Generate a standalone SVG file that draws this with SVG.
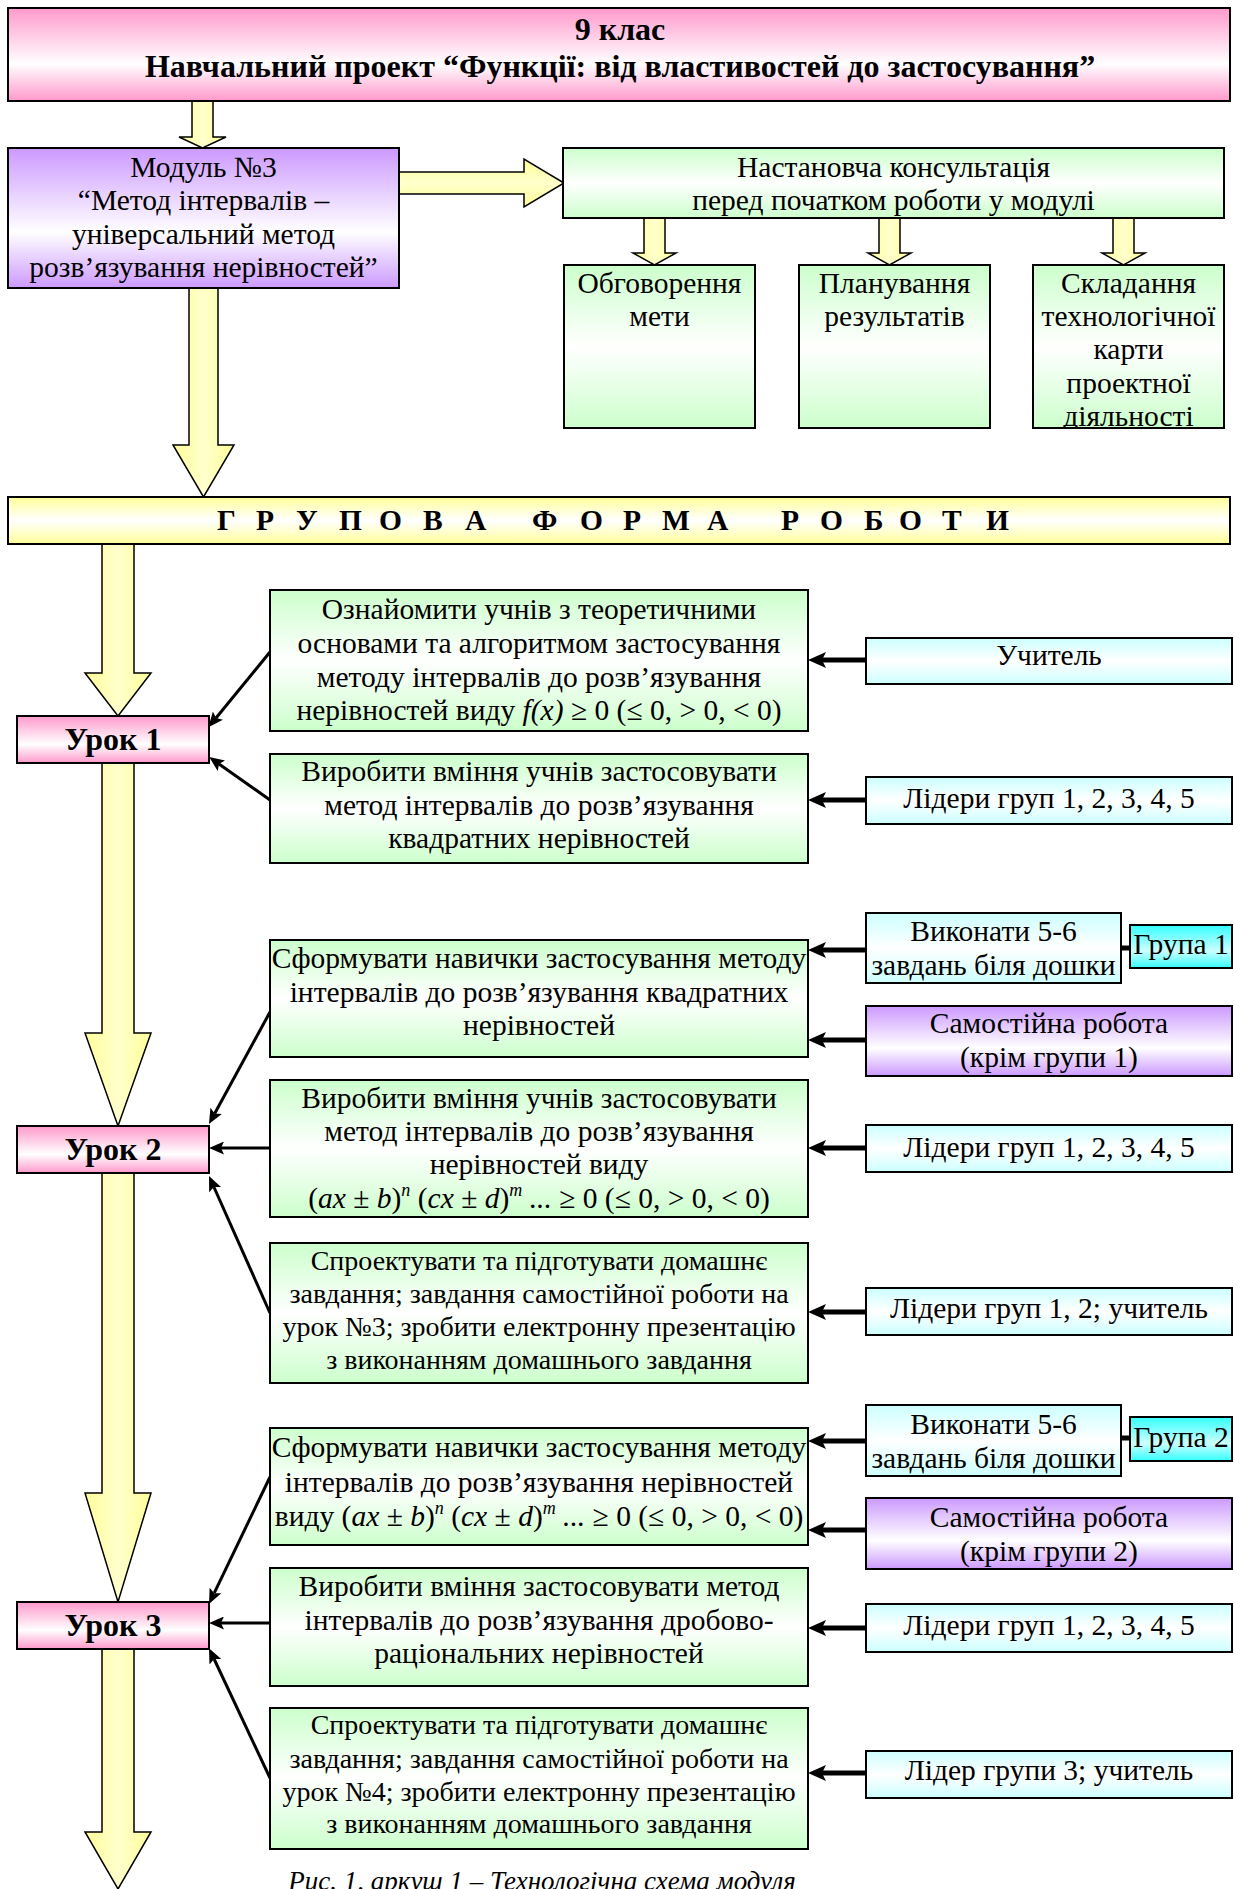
<svg xmlns="http://www.w3.org/2000/svg" width="1234" height="1889" viewBox="0 0 1234 1889">
<style>
.t{font-family:"Liberation Serif","Times New Roman",serif;font-size:29.5px;text-anchor:middle;fill:#000}
.s{font-size:28px}
.b{font-weight:bold}
.h{font-size:32px}
.i{font-style:italic}
.sup{font-style:italic;font-size:18px}
.cap{font-size:27px}
.box{stroke:#000;stroke-width:2}
.pink{fill:url(#gPink)}
.purple{fill:url(#gPurple)}
.green{fill:url(#gGreen)}
.cyan{fill:url(#gCyan)}
.cyan2{fill:url(#gCyan2)}
.yel{fill:url(#gYel)}
.ba{fill:url(#gArrV);stroke:#000;stroke-width:1.5}
.bah{fill:url(#gArrH);stroke:#000;stroke-width:1.5}
.thin{stroke:#000;stroke-width:3;fill:none;marker-end:url(#ah)}
.thick{stroke:#000;stroke-width:5;fill:none;marker-end:url(#ahT)}
</style>
<defs>
<linearGradient id="gPink" x1="0" y1="0" x2="0" y2="1"><stop offset="0" stop-color="#ff99cc"/><stop offset="0.6" stop-color="#ffffff"/><stop offset="1" stop-color="#ff99cc"/></linearGradient>
<linearGradient id="gPurple" x1="0" y1="0" x2="0" y2="1"><stop offset="0" stop-color="#cc99ff"/><stop offset="0.6" stop-color="#ffffff"/><stop offset="1" stop-color="#cc99ff"/></linearGradient>
<linearGradient id="gGreen" x1="0" y1="0" x2="0" y2="1"><stop offset="0" stop-color="#ccffcc"/><stop offset="0.5" stop-color="#ffffff"/><stop offset="1" stop-color="#ccffcc"/></linearGradient>
<linearGradient id="gCyan" x1="0" y1="0" x2="0" y2="1"><stop offset="0" stop-color="#ccffff"/><stop offset="0.5" stop-color="#ffffff"/><stop offset="1" stop-color="#ccffff"/></linearGradient>
<linearGradient id="gCyan2" x1="0" y1="0" x2="0" y2="1"><stop offset="0" stop-color="#33ffff"/><stop offset="0.6" stop-color="#ccffff"/><stop offset="1" stop-color="#33ffff"/></linearGradient>
<linearGradient id="gYel" x1="0" y1="0" x2="0" y2="1"><stop offset="0" stop-color="#ffff99"/><stop offset="0.5" stop-color="#ffffff"/><stop offset="1" stop-color="#ffff99"/></linearGradient>
<linearGradient id="gArrV" x1="0" y1="0" x2="1" y2="0"><stop offset="0" stop-color="#ffff99"/><stop offset="0.5" stop-color="#ffffcc"/><stop offset="1" stop-color="#ffff99"/></linearGradient>
<linearGradient id="gArrH" x1="0" y1="0" x2="0" y2="1"><stop offset="0" stop-color="#ffff99"/><stop offset="0.5" stop-color="#ffffcc"/><stop offset="1" stop-color="#ffff99"/></linearGradient>
<marker id="ah" viewBox="0 0 15 13" refX="3" refY="6.5" markerWidth="15" markerHeight="13" markerUnits="userSpaceOnUse" orient="auto"><path d="M0,0 L15,6.5 L0,13 L3,6.5 z" fill="#000"/></marker>
<marker id="ahT" viewBox="0 0 18 16" refX="4" refY="8" markerWidth="18" markerHeight="16" markerUnits="userSpaceOnUse" orient="auto"><path d="M0,0 L18,8 L0,16 L4,8 z" fill="#000"/></marker>
<clipPath id="clipSklad"><rect x="1033" y="265" width="191" height="162"/></clipPath>
</defs>

<g id="connectors">
<polygon class="ba" points="192,101 213,101 213,137 226,137 202.5,148 179,137 192,137"/>
<polygon class="bah" points="399,172 524,172 524,159 564,183 524,207 524,194 399,194"/>
<polygon class="ba" points="644,218 665,218 665,253 676,253 654.5,265 633,253 644,253"/>
<polygon class="ba" points="879,218 900,218 900,253 911,253 889.5,265 868,253 879,253"/>
<polygon class="ba" points="1113,218 1134,218 1134,253 1145,253 1123.5,265 1102,253 1113,253"/>
<polygon class="ba" points="189,288 218,288 218,445 234,445 203.5,497 173,445 189,445"/>
<polygon class="ba" points="102,544 134,544 134,673 151,673 118,716 85,673 102,673"/>
<polygon class="ba" points="102,763 134,763 134,1033 151,1033 118,1126 85,1033 102,1033"/>
<polygon class="ba" points="102,1173 134,1173 134,1493 151,1493 118,1602 85,1493 102,1493"/>
<polygon class="ba" points="102,1649 134,1649 134,1832 151,1832 118,1889 85,1832 102,1832"/>
<line class="thin" x1="270" y1="652" x2="216" y2="718"/>
<line class="thin" x1="270" y1="800" x2="219" y2="764"/>
<line class="thin" x1="270" y1="1012" x2="214.7" y2="1113.5"/>
<line class="thin" x1="270" y1="1148" x2="221" y2="1148"/>
<line class="thin" x1="270" y1="1313" x2="213.9" y2="1187"/>
<line class="thin" x1="270" y1="1477" x2="214.2" y2="1593.2"/>
<line class="thin" x1="270" y1="1623" x2="221" y2="1623"/>
<line class="thin" x1="270" y1="1778" x2="214.1" y2="1659"/>
<line class="thick" x1="866" y1="660" x2="822" y2="660"/>
<line class="thick" x1="866" y1="800" x2="822" y2="800"/>
<line class="thick" x1="866" y1="950" x2="822" y2="950"/>
<line class="thick" x1="866" y1="1040" x2="822" y2="1040"/>
<line class="thick" x1="866" y1="1148" x2="822" y2="1148"/>
<line class="thick" x1="866" y1="1312" x2="822" y2="1312"/>
<line class="thick" x1="866" y1="1441" x2="822" y2="1441"/>
<line class="thick" x1="866" y1="1530" x2="822" y2="1530"/>
<line class="thick" x1="866" y1="1628" x2="822" y2="1628"/>
<line class="thick" x1="866" y1="1773" x2="822" y2="1773"/>
<line x1="1121" y1="948" x2="1130" y2="948" stroke="#000" stroke-width="5"/>
<line x1="1121" y1="1438" x2="1130" y2="1438" stroke="#000" stroke-width="5"/>
</g>

<g id="title">
<rect class="box pink" x="8" y="8" width="1222" height="93"/>
<text class="t b h" x="620" y="40">9 клас</text>
<text class="t b h" x="620" y="77">Навчальний проект “Функції: від властивостей до застосування”</text>
</g>

<g id="module">
<rect class="box purple" x="8" y="148" width="391" height="140"/>
<text class="t" x="203.5" y="177">Модуль №3</text>
<text class="t" x="203.5" y="210">“Метод інтервалів –</text>
<text class="t" x="203.5" y="244">універсальний метод</text>
<text class="t" x="203.5" y="277">розв’язування нерівностей”</text>
</g>

<g id="konsult">
<rect class="box green" x="563" y="148" width="661" height="70"/>
<text class="t" x="893.5" y="177">Настановча консультація</text>
<text class="t" x="893.5" y="210">перед початком роботи у модулі</text>
</g>

<g id="obgovorennia">
<rect class="box green" x="564" y="265" width="191" height="163"/>
<text class="t" x="659.5" y="293">Обговорення</text>
<text class="t" x="659.5" y="326">мети</text>
</g>

<g id="planuvannia">
<rect class="box green" x="799" y="265" width="191" height="163"/>
<text class="t" x="894.5" y="293">Планування</text>
<text class="t" x="894.5" y="326">результатів</text>
</g>

<g id="skladannia">
<rect class="box green" x="1033" y="265" width="191" height="163"/>
<g clip-path="url(#clipSklad)">
<text class="t" x="1128.5" y="293">Складання</text>
<text class="t" x="1128.5" y="326">технологічної</text>
<text class="t" x="1128.5" y="359">карти</text>
<text class="t" x="1128.5" y="393">проектної</text>
<text class="t" x="1128.5" y="426">діяльності</text>
</g>
</g>

<g id="grupova">
<rect class="box yel" x="8" y="497" width="1222" height="47"/>
<text class="t b" style="text-anchor:start" y="530" x="217 240 256 278 296 320 339 362 379 403 423 446 465 500 532 560 580 603 623 645 662 688 707 745 781 803 820 843 864 884 899 922 942 966 986">Г Р У П О В А Ф О Р М А Р О Б О Т И</text>
</g>

<g id="urok1">
<rect class="box pink" x="17" y="716" width="192" height="47"/>
<text class="t b h" x="113" y="750">Урок 1</text>
</g>

<g id="g1">
<rect class="box green" x="270" y="590" width="538" height="141"/>
<text class="t" x="539" y="619">Ознайомити учнів з теоретичними</text>
<text class="t" x="539" y="653">основами та алгоритмом застосування</text>
<text class="t" x="539" y="687">методу інтервалів до розв’язування</text>
<text class="t" x="539" y="720">нерівностей виду <tspan class="i">f(x)</tspan> ≥ 0 (≤ 0, &gt; 0, &lt; 0)</text>
</g>

<g id="uchytel">
<rect class="box cyan" x="866" y="638" width="366" height="46"/>
<text class="t" x="1049" y="665">Учитель</text>
</g>

<g id="g2">
<rect class="box green" x="270" y="754" width="538" height="109"/>
<text class="t" x="539" y="781">Виробити вміння учнів застосовувати</text>
<text class="t" x="539" y="815">метод інтервалів до розв’язування</text>
<text class="t" x="539" y="848">квадратних нерівностей</text>
</g>

<g id="lidery1">
<rect class="box cyan" x="866" y="777" width="366" height="47"/>
<text class="t" x="1049" y="808">Лідери груп 1, 2, 3, 4, 5</text>
</g>

<g id="g3">
<rect class="box green" x="270" y="940" width="538" height="117"/>
<text class="t" x="539" y="968">Сформувати навички застосування методу</text>
<text class="t" x="539" y="1002">інтервалів до розв’язування квадратних</text>
<text class="t" x="539" y="1035">нерівностей</text>
</g>

<g id="vykonaty1">
<rect class="box cyan" x="866" y="913" width="255" height="70"/>
<text class="t" x="993.5" y="941">Виконати 5-6</text>
<text class="t" x="993.5" y="975">завдань біля дошки</text>
</g>

<g id="grupa1">
<rect class="box cyan2" x="1130" y="925" width="102" height="43"/>
<text class="t" x="1181" y="954">Група 1</text>
</g>

<g id="samostiina1">
<rect class="box purple" x="866" y="1006" width="366" height="70"/>
<text class="t" x="1049" y="1033">Самостійна робота</text>
<text class="t" x="1049" y="1067">(крім групи 1)</text>
</g>

<g id="urok2">
<rect class="box pink" x="17" y="1126" width="192" height="47"/>
<text class="t b h" x="113" y="1160">Урок 2</text>
</g>

<g id="g4">
<rect class="box green" x="270" y="1080" width="538" height="137"/>
<text class="t" x="539" y="1108">Виробити вміння учнів застосовувати</text>
<text class="t" x="539" y="1141">метод інтервалів до розв’язування</text>
<text class="t" x="539" y="1174">нерівностей виду</text>
<text class="t" x="539" y="1208">(<tspan class="i">ax</tspan> ± <tspan class="i">b</tspan>)<tspan class="sup" dy="-12">n</tspan><tspan dy="12"> (</tspan><tspan class="i">cx</tspan> ± <tspan class="i">d</tspan>)<tspan class="sup" dy="-12">m</tspan><tspan dy="12"> </tspan><tspan class="i">...</tspan> ≥ 0 (≤ 0, &gt; 0, &lt; 0)</text>
</g>

<g id="lidery2">
<rect class="box cyan" x="866" y="1125" width="366" height="47"/>
<text class="t" x="1049" y="1157">Лідери груп 1, 2, 3, 4, 5</text>
</g>

<g id="g5">
<rect class="box green" x="270" y="1243" width="538" height="140"/>
<text class="t s" x="539" y="1270">Спроектувати та підготувати домашнє</text>
<text class="t s" x="539" y="1303">завдання; завдання самостійної роботи на</text>
<text class="t s" x="539" y="1336">урок №3; зробити електронну презентацію</text>
<text class="t s" x="539" y="1369">з виконанням домашнього завдання</text>
</g>

<g id="lidery12">
<rect class="box cyan" x="866" y="1288" width="366" height="47"/>
<text class="t" x="1049" y="1318">Лідери груп 1, 2; учитель</text>
</g>

<g id="vykonaty2">
<rect class="box cyan" x="866" y="1405" width="255" height="71"/>
<text class="t" x="993.5" y="1434">Виконати 5-6</text>
<text class="t" x="993.5" y="1468">завдань біля дошки</text>
</g>

<g id="grupa2">
<rect class="box cyan2" x="1130" y="1417" width="102" height="44"/>
<text class="t" x="1181" y="1447">Група 2</text>
</g>

<g id="g6">
<rect class="box green" x="270" y="1428" width="538" height="117"/>
<text class="t" x="539" y="1457">Сформувати навички застосування методу</text>
<text class="t" x="539" y="1492">інтервалів до розв’язування нерівностей</text>
<text class="t" x="539" y="1526">виду (<tspan class="i">ax</tspan> ± <tspan class="i">b</tspan>)<tspan class="sup" dy="-12">n</tspan><tspan dy="12"> (</tspan><tspan class="i">cx</tspan> ± <tspan class="i">d</tspan>)<tspan class="sup" dy="-12">m</tspan><tspan dy="12"> </tspan><tspan class="i">...</tspan> ≥ 0 (≤ 0, &gt; 0, &lt; 0)</text>
</g>

<g id="samostiina2">
<rect class="box purple" x="866" y="1498" width="366" height="71"/>
<text class="t" x="1049" y="1527">Самостійна робота</text>
<text class="t" x="1049" y="1561">(крім групи 2)</text>
</g>

<g id="urok3">
<rect class="box pink" x="17" y="1602" width="192" height="47"/>
<text class="t b h" x="113" y="1636">Урок 3</text>
</g>

<g id="g7">
<rect class="box green" x="270" y="1568" width="538" height="118"/>
<text class="t" x="539" y="1596">Виробити вміння застосовувати метод</text>
<text class="t" x="539" y="1630">інтервалів до розв’язування дробово-</text>
<text class="t" x="539" y="1663">раціональних нерівностей</text>
</g>

<g id="lidery3">
<rect class="box cyan" x="866" y="1604" width="366" height="48"/>
<text class="t" x="1049" y="1635">Лідери груп 1, 2, 3, 4, 5</text>
</g>

<g id="g8">
<rect class="box green" x="270" y="1708" width="538" height="141"/>
<text class="t s" x="539" y="1734">Спроектувати та підготувати домашнє</text>
<text class="t s" x="539" y="1768">завдання; завдання самостійної роботи на</text>
<text class="t s" x="539" y="1801">урок №4; зробити електронну презентацію</text>
<text class="t s" x="539" y="1833">з виконанням домашнього завдання</text>
</g>

<g id="lider3">
<rect class="box cyan" x="866" y="1751" width="366" height="47"/>
<text class="t" x="1049" y="1780">Лідер групи 3; учитель</text>
</g>

<g id="caption">
<text class="t i cap" x="542" y="1890">Рис. 1, аркуш 1 – Технологічна схема модуля</text>
</g>
</svg>
